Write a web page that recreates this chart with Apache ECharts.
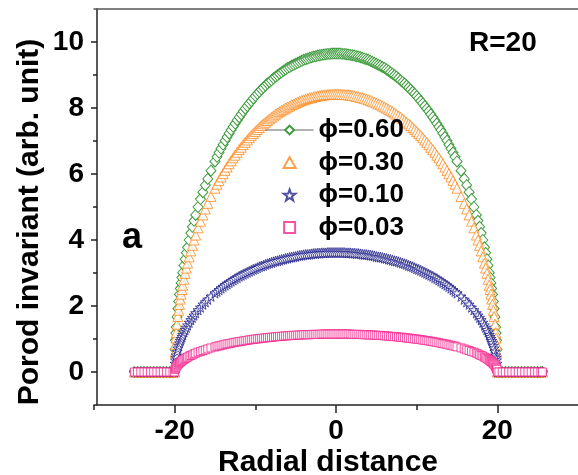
<!DOCTYPE html>
<html>
<head>
<meta charset="utf-8">
<title>Porod invariant vs radial distance</title>
<script src="https://cdn.jsdelivr.net/npm/echarts@6.0.0/dist/echarts.min.js"></script>
<style>
  html, body { margin: 0; padding: 0; background: #fff; }
  #chart { width: 578px; height: 475px; }
</style>
</head>
<body>
<div id="chart"></div>
<script>
// flat part outside the particle (value 0 for every series)
var tailLeft = [-25, -24.6, -24.2, -23.8, -23.4, -23, -22.6, -22.2, -21.8, -21.4, -21, -20.6, -20.2, -20];
var tailRight = [20, 20.2, 20.6, 21, 21.4, 21.8, 22.2, 22.6, 23, 23.4, 23.8, 24.2, 24.6, 25, 25.4, 25.6];
var tailValue = 0;

// radial positions inside the particle
var radius = [-19.95, -19.9, -19.85, -19.8, -19.7, -19.6, -19.5, -19.4, -19.3, -19.2, -19.1, -19, -18.85, -18.7, -18.55, -18.4, -18.2, -18, -17.8, -17.6, -17.4, -17.1, -16.8, -16.5, -16.2, -15.9, -15.5, -15,
  -14.5, -14, -13.5, -13, -12.5, -12, -11.5, -11, -10.5, -10, -9.5, -9, -8.5, -8, -7.5, -7, -6.5, -6, -5.5, -5, -4.5, -4, -3.5, -3, -2.5, -2, -1.5, -1, -0.5,
  0,
  0.5, 1, 1.5, 2, 2.5, 3, 3.5, 4, 4.5, 5, 5.5, 6, 6.5, 7, 7.5, 8, 8.5, 9, 9.5, 10, 10.5, 11, 11.5, 12, 12.5, 13, 13.5, 14, 14.5,
  15, 15.5, 15.9, 16.2, 16.5, 16.8, 17.1, 17.4, 17.6, 17.8, 18, 18.2, 18.4, 18.55, 18.7, 18.85, 19, 19.1, 19.2, 19.3, 19.4, 19.5, 19.6, 19.7, 19.8, 19.85, 19.9, 19.95];

// extra positions in between (the measured points are very dense)
var radiusMid = [-14.75, -14.25, -13.75, -13.25, -12.75, -12.25, -11.75, -11.25, -10.75, -10.25, -9.75, -9.25, -8.75, -8.25, -7.75, -7.25, -6.75, -6.25, -5.75, -5.25, -4.75, -4.25, -3.75, -3.25, -2.75, -2.25, -1.75, -1.25, -0.75, -0.25,
  0.25, 0.75, 1.25, 1.75, 2.25, 2.75, 3.25, 3.75, 4.25, 4.75, 5.25, 5.75, 6.25, 6.75, 7.25, 7.75, 8.25, 8.75, 9.25, 9.75, 10.25, 10.75, 11.25, 11.75, 12.25, 12.75, 13.25, 13.75, 14.25, 14.75];

var phi060 = [0.68, 0.96, 1.18, 1.36, 1.67, 1.92, 2.14, 2.35, 2.53, 2.70, 2.86, 3.01, 3.23, 3.42, 3.61, 3.78, 4.00, 4.21, 4.40, 4.58, 4.76, 5.00, 5.24, 5.45, 5.66, 5.85, 6.10, 6.38,
  6.65, 6.89, 7.12, 7.33, 7.53, 7.72, 7.90, 8.06, 8.21, 8.36, 8.49, 8.62, 8.74, 8.84, 8.95, 9.04, 9.13, 9.21, 9.28, 9.34, 9.40, 9.46, 9.50, 9.54, 9.57, 9.60, 9.62, 9.64, 9.65,
  9.65,
  9.65, 9.64, 9.62, 9.60, 9.57, 9.54, 9.50, 9.46, 9.40, 9.34, 9.28, 9.21, 9.13, 9.04, 8.95, 8.84, 8.74, 8.62, 8.49, 8.36, 8.21, 8.06, 7.90, 7.72, 7.53, 7.33, 7.12, 6.89, 6.65,
  6.38, 6.10, 5.85, 5.66, 5.45, 5.24, 5.00, 4.76, 4.58, 4.40, 4.21, 4.00, 3.78, 3.61, 3.42, 3.23, 3.01, 2.86, 2.70, 2.53, 2.35, 2.14, 1.92, 1.67, 1.36, 1.18, 0.96, 0.68];
var phi060Mid = [6.52, 6.77, 7.01, 7.23, 7.43, 7.63, 7.81, 7.98, 8.14, 8.29, 8.43, 8.56, 8.68, 8.79, 8.90, 8.99, 9.08, 9.17, 9.24, 9.31, 9.37, 9.43, 9.48, 9.52, 9.56, 9.59, 9.61, 9.63, 9.64, 9.65,
  9.65, 9.64, 9.63, 9.61, 9.59, 9.56, 9.52, 9.48, 9.43, 9.37, 9.31, 9.24, 9.17, 9.08, 8.99, 8.90, 8.79, 8.68, 8.56, 8.43, 8.29, 8.14, 7.98, 7.81, 7.63, 7.43, 7.23, 7.01, 6.77, 6.52];

var phi030 = [0.60, 0.84, 1.03, 1.19, 1.45, 1.68, 1.87, 2.05, 2.21, 2.36, 2.50, 2.63, 2.81, 2.99, 3.15, 3.30, 3.49, 3.67, 3.84, 4.00, 4.15, 4.37, 4.57, 4.76, 4.94, 5.11, 5.32, 5.57,
  5.80, 6.01, 6.21, 6.40, 6.57, 6.74, 6.89, 7.03, 7.17, 7.29, 7.41, 7.52, 7.62, 7.72, 7.81, 7.89, 7.96, 8.03, 8.10, 8.15, 8.20, 8.25, 8.29, 8.32, 8.35, 8.38, 8.40, 8.41, 8.42,
  8.42,
  8.42, 8.41, 8.40, 8.38, 8.35, 8.32, 8.29, 8.25, 8.20, 8.15, 8.10, 8.03, 7.96, 7.89, 7.81, 7.72, 7.62, 7.52, 7.41, 7.29, 7.17, 7.03, 6.89, 6.74, 6.57, 6.40, 6.21, 6.01, 5.80,
  5.57, 5.32, 5.11, 4.94, 4.76, 4.57, 4.37, 4.15, 4.00, 3.84, 3.67, 3.49, 3.30, 3.15, 2.99, 2.81, 2.63, 2.50, 2.36, 2.21, 2.05, 1.87, 1.68, 1.45, 1.19, 1.03, 0.84, 0.60];
var phi030Mid = [5.69, 5.91, 6.11, 6.31, 6.49, 6.66, 6.81, 6.96, 7.10, 7.23, 7.35, 7.47, 7.57, 7.67, 7.76, 7.85, 7.93, 8.00, 8.06, 8.12, 8.18, 8.23, 8.27, 8.31, 8.34, 8.37, 8.39, 8.40, 8.41, 8.42,
  8.42, 8.41, 8.40, 8.39, 8.37, 8.34, 8.31, 8.27, 8.23, 8.18, 8.12, 8.06, 8.00, 7.93, 7.85, 7.76, 7.67, 7.57, 7.47, 7.35, 7.23, 7.10, 6.96, 6.81, 6.66, 6.49, 6.31, 6.11, 5.91, 5.69];

var phi010 = [0.26, 0.36, 0.44, 0.51, 0.62, 0.72, 0.80, 0.88, 0.95, 1.01, 1.07, 1.13, 1.21, 1.28, 1.35, 1.42, 1.50, 1.58, 1.65, 1.72, 1.79, 1.88, 1.96, 2.05, 2.12, 2.20, 2.29, 2.39,
  2.49, 2.59, 2.67, 2.75, 2.83, 2.90, 2.96, 3.02, 3.08, 3.13, 3.19, 3.23, 3.28, 3.32, 3.36, 3.39, 3.42, 3.45, 3.48, 3.50, 3.53, 3.55, 3.56, 3.58, 3.59, 3.60, 3.61, 3.62, 3.62,
  3.62,
  3.62, 3.62, 3.61, 3.60, 3.59, 3.58, 3.56, 3.55, 3.53, 3.50, 3.48, 3.45, 3.42, 3.39, 3.36, 3.32, 3.28, 3.23, 3.19, 3.13, 3.08, 3.02, 2.96, 2.90, 2.83, 2.75, 2.67, 2.59, 2.49,
  2.39, 2.29, 2.20, 2.12, 2.05, 1.96, 1.88, 1.79, 1.72, 1.65, 1.58, 1.50, 1.42, 1.35, 1.28, 1.21, 1.13, 1.07, 1.01, 0.95, 0.88, 0.80, 0.72, 0.62, 0.51, 0.44, 0.36, 0.26];
var phi010Mid = [2.44, 2.54, 2.63, 2.71, 2.79, 2.86, 2.93, 2.99, 3.05, 3.11, 3.16, 3.21, 3.26, 3.30, 3.34, 3.37, 3.41, 3.44, 3.47, 3.49, 3.52, 3.54, 3.56, 3.57, 3.59, 3.60, 3.61, 3.61, 3.62, 3.62,
  3.62, 3.62, 3.61, 3.61, 3.60, 3.59, 3.57, 3.56, 3.54, 3.52, 3.49, 3.47, 3.44, 3.41, 3.37, 3.34, 3.30, 3.26, 3.21, 3.16, 3.11, 3.05, 2.99, 2.93, 2.86, 2.79, 2.71, 2.63, 2.54, 2.44];

var phi003 = [0.08, 0.11, 0.14, 0.16, 0.20, 0.23, 0.26, 0.28, 0.30, 0.32, 0.34, 0.36, 0.38, 0.41, 0.43, 0.45, 0.48, 0.50, 0.52, 0.55, 0.57, 0.60, 0.62, 0.65, 0.67, 0.70, 0.73, 0.76,
  0.79, 0.82, 0.85, 0.87, 0.90, 0.92, 0.94, 0.96, 0.98, 1.00, 1.01, 1.03, 1.04, 1.05, 1.07, 1.08, 1.09, 1.10, 1.11, 1.11, 1.12, 1.13, 1.13, 1.14, 1.14, 1.14, 1.15, 1.15, 1.15,
  1.15,
  1.15, 1.15, 1.15, 1.14, 1.14, 1.14, 1.13, 1.13, 1.12, 1.11, 1.11, 1.10, 1.09, 1.08, 1.07, 1.05, 1.04, 1.03, 1.01, 1.00, 0.98, 0.96, 0.94, 0.92, 0.90, 0.87, 0.85, 0.82, 0.79,
  0.76, 0.73, 0.70, 0.67, 0.65, 0.62, 0.60, 0.57, 0.55, 0.52, 0.50, 0.48, 0.45, 0.43, 0.41, 0.38, 0.36, 0.34, 0.32, 0.30, 0.28, 0.26, 0.23, 0.20, 0.16, 0.14, 0.11, 0.08];
var phi003Mid = [0.78, 0.81, 0.84, 0.86, 0.89, 0.91, 0.93, 0.95, 0.97, 0.99, 1.00, 1.02, 1.03, 1.05, 1.06, 1.07, 1.08, 1.09, 1.10, 1.11, 1.12, 1.12, 1.13, 1.13, 1.14, 1.14, 1.15, 1.15, 1.15, 1.15,
  1.15, 1.15, 1.15, 1.15, 1.14, 1.14, 1.13, 1.13, 1.12, 1.12, 1.11, 1.10, 1.09, 1.08, 1.07, 1.06, 1.05, 1.03, 1.02, 1.00, 0.99, 0.97, 0.95, 0.93, 0.91, 0.89, 0.86, 0.84, 0.81, 0.78];

var names = ['ϕ=0.60', 'ϕ=0.30', 'ϕ=0.10', 'ϕ=0.03'];
var xMajor = [-20, 0, 20];
var xMinor = [-30, -10, 10];
var yMajor = [0, 2, 4, 6, 8, 10];
var yMinor = [1, 3, 5, 7, 9];

var starPath = 'path://M0,-10 L2.35,-3.24 L9.51,-3.09 L3.8,1.24 L5.88,8.09 L0,4 L-5.88,8.09 L-3.8,1.24 L-9.51,-3.09 L-2.35,-3.24 Z';
var trianglePath = 'path://M5,0 L10,9 L0,9 Z';
var squarePath = 'path://M0,0 L10,0 L10,10 L0,10 Z';
var font = '"Liberation Sans", Arial, Helvetica, sans-serif';

function points(vals, mid) {
  var d = [];
  tailLeft.forEach(function (x) { d.push([x, tailValue]); });
  radius.forEach(function (x, i) { d.push([x, vals[i]]); });
  radiusMid.forEach(function (x, i) { d.push([x, mid[i]]); });
  tailRight.forEach(function (x) { d.push([x, tailValue]); });
  d.sort(function (a, b) { return a[0] - b[0]; });
  return d;
}

function hollow(c) {
  return { color: '#fff', borderColor: c, borderWidth: 1 };
}

var chart = echarts.init(document.getElementById('chart'), null, { renderer: 'canvas' });

var axisLabelStyle = { color: '#000', fontWeight: 'bold', fontSize: 28, fontFamily: font };
var axisLineStyle = { color: '#222', width: 1.5 };

chart.setOption({
  animation: false,
  backgroundColor: '#fff',
  grid: { left: 94, right: -8, top: 9, bottom: 70, containLabel: false },
  xAxis: [
    {
      type: 'value', min: -30, max: 30, position: 'bottom',
      axisLine: { show: true, onZero: false, lineStyle: axisLineStyle },
      axisTick: { show: true, length: 8, customValues: xMajor, lineStyle: axisLineStyle },
      axisLabel: Object.assign({ margin: 12, customValues: xMajor }, axisLabelStyle),
      splitLine: { show: false }
    },
    {
      type: 'value', min: -30, max: 30, position: 'bottom',
      axisLine: { show: false, onZero: false },
      axisTick: { show: true, length: 5, customValues: xMinor, lineStyle: axisLineStyle },
      axisLabel: { show: false },
      splitLine: { show: false }
    },
    {
      type: 'value', min: -30, max: 30, position: 'top',
      axisLine: { show: true, onZero: false, lineStyle: { color: '#555', width: 1.5 } },
      axisTick: { show: false },
      axisLabel: { show: false },
      splitLine: { show: false }
    }
  ],
  yAxis: [
    {
      type: 'value', min: -1, max: 11, position: 'left', offset: -3,
      axisLine: { show: true, onZero: false, lineStyle: axisLineStyle },
      axisTick: { show: true, length: 6, customValues: yMajor, lineStyle: axisLineStyle },
      axisLabel: Object.assign({ margin: 13, customValues: yMajor }, axisLabelStyle),
      splitLine: { show: false }
    },
    {
      type: 'value', min: -1, max: 11, position: 'left', offset: -3,
      axisLine: { show: false, onZero: false },
      axisTick: { show: true, length: 4, customValues: yMinor, lineStyle: axisLineStyle },
      axisLabel: { show: false },
      splitLine: { show: false }
    }
  ],
  legend: {
    orient: 'vertical', left: 265, top: 117, padding: 0,
    itemWidth: 48, itemHeight: 11, itemGap: 6.5, symbolKeepAspect: true,
    textStyle: { color: '#000', fontWeight: 'bold', fontSize: 26, lineHeight: 26, fontFamily: font },
    data: [
      { name: names[0], lineStyle: { color: '#666', width: 1.2 } },
      { name: names[1] }, { name: names[2] }, { name: names[3] }
    ]
  },
  graphic: [
    { type: 'text', x: 30, y: 222, rotation: Math.PI / 2,
      style: { text: 'Porod invariant (arb. unit)', font: 'bold 30px ' + font, fill: '#000', align: 'center', verticalAlign: 'middle' } },
    { type: 'text', x: 328, y: 463,
      style: { text: 'Radial distance', font: 'bold 30px ' + font, fill: '#000', align: 'center', verticalAlign: 'middle' } },
    { type: 'text', x: 469, y: 43,
      style: { text: 'R=20', font: 'bold 28px ' + font, fill: '#000', align: 'left', verticalAlign: 'middle' } },
    { type: 'text', x: 122, y: 238,
      style: { text: 'a', font: 'bold 36px ' + font, fill: '#000', align: 'left', verticalAlign: 'middle' } }
  ],
  series: [
    {
      name: names[0], type: 'line', data: points(phi060, phi060Mid),
      symbol: 'diamond', symbolSize: [10, 11], showAllSymbol: true,
      lineStyle: { color: '#2f8f2f', width: 1 }, itemStyle: hollow('#3d9b3d'), z: 2
    },
    {
      name: names[1], type: 'scatter', data: points(phi030, phi030Mid),
      symbol: trianglePath, symbolSize: 10, itemStyle: hollow('#ff8a1f'), z: 3
    },
    {
      name: names[2], type: 'scatter', data: points(phi010, phi010Mid),
      symbol: starPath, symbolSize: 10, itemStyle: hollow('#23238c'), z: 4
    },
    {
      name: names[3], type: 'scatter', data: points(phi003, phi003Mid),
      symbol: squarePath, symbolSize: 8, itemStyle: hollow('#f5288e'), z: 5
    }
  ]
});
</script>
</body>
</html>
